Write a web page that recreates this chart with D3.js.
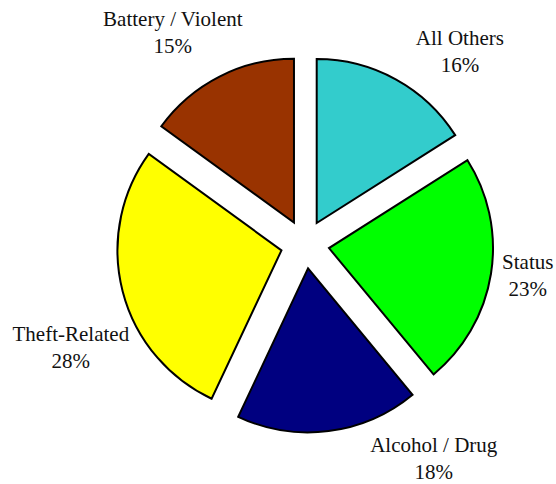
<!DOCTYPE html>
<html lang="en">
<head>
    <meta charset="UTF-8">
    <title>Exploded pie</title>
    <script src="https://d3js.org/d3.v7.min.js"></script>
    <style>
        body { margin: 0; background: #fff; }
        .label {
            font-family: "Liberation Serif", "Times New Roman", serif;
            font-size: 21px;
            fill: #111;
        }
    </style>
</head>
<body>
    <svg width="556" height="484"></svg>

    <script>
        // Data (clockwise from 12 o'clock)
        const categories = ["All Others", "Status", "Alcohol / Drug", "Theft-Related", "Battery / Violent"];
        const values = [16, 23, 18, 28, 15];
        const colors = ["#33CCCC", "#00FF00", "#000080", "#FFFF00", "#993300"];

        // Label placement: angle (deg, clockwise from top) and distance from center
        const labelAngles = [39.8, 99.7, 149.8, 244.7, 327.2];
        const labelRadii = [242, 226, 256, 259, 244];

        const cx = 305, cy = 244.3;
        const radius = 164;
        const explode = 24.3;
        const lineGap = 27;

        const svg = d3.select("svg");
        const g = svg.append("g").attr("transform", `translate(${cx},${cy})`);

        const data = categories.map((c, i) => ({ name: c, value: values[i], color: colors[i] }));

        const pie = d3.pie().sort(null).value(d => d.value);
        const arc = d3.arc().innerRadius(0).outerRadius(radius);

        const arcs = pie(data);

        g.selectAll("path.slice")
            .data(arcs)
            .join("path")
            .attr("class", "slice")
            .attr("transform", d => {
                const a = (d.startAngle + d.endAngle) / 2;
                return `translate(${Math.sin(a) * explode},${-Math.cos(a) * explode})`;
            })
            .attr("d", arc)
            .attr("fill", d => d.data.color)
            .attr("stroke", "#000")
            .attr("stroke-width", 2)
            .attr("stroke-linejoin", "miter");

        // labels
        const total = d3.sum(values);
        const labels = g.selectAll("text.label")
            .data(arcs)
            .join("text")
            .attr("class", "label")
            .attr("text-anchor", "middle");

        labels.each(function (d, i) {
            const a = labelAngles[i] * Math.PI / 180;
            const x = Math.sin(a) * labelRadii[i];
            const y = -Math.cos(a) * labelRadii[i];
            const t = d3.select(this);
            t.append("tspan").attr("x", x).attr("y", y - lineGap / 2).text(d.data.name);
            t.append("tspan").attr("x", x).attr("y", y + lineGap / 2)
                .text(Math.round(d.data.value / total * 100) + "%");
        });
    </script>
</body>
</html>
